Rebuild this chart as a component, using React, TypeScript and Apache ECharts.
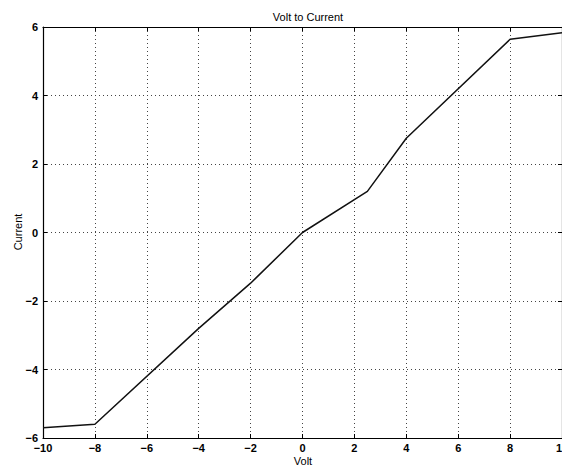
import React, { useEffect, useRef } from "react";
import * as echarts from "echarts";

const volts = [-10, -8, -4, -2, 0, 2.5, 4, 8, 10];
const currents = [-5.7, -5.6, -2.8, -1.48, 0, 1.2, 2.75, 5.64, 5.83];
const xTicks = [-10, -8, -6, -4, -2, 0, 2, 4, 6, 8, 10];
const yTicks = [-6, -4, -2, 0, 2, 4, 6];
const xName = "Volt";
const yName = "Current";

const fmt = (v: number) => String(v).replace("-", "\u2212");

export default function App() {
  const ref = useRef<HTMLDivElement>(null);
  useEffect(() => {
    if (!ref.current) return;
    const chart = echarts.init(ref.current, null, { renderer: "svg" });
    const font = "Liberation Sans, Arial, sans-serif";
    const grid = { left: 43, top: 27, width: 519, height: 411, containLabel: false, outerBoundsMode: "none" };
    chart.setOption({
      animation: false,
      backgroundColor: "#fff",
      title: {
        text: "Volt to Current",
        left: 303,
        top: 6,
        textAlign: "center",
        textStyle: { fontFamily: font, fontSize: 11, fontWeight: "normal", color: "#000" },
      },
      graphic: [
        {
          type: "text",
          x: 303,
          y: 460.5,
          style: { text: xName, fontFamily: font, fontSize: 11, fill: "#000", align: "center", verticalAlign: "middle" },
        },
        {
          type: "text",
          x: 18,
          y: 232,
          rotation: Math.PI / 2,
          style: { text: yName, fontFamily: font, fontSize: 11, fill: "#000", align: "center", verticalAlign: "middle" },
        },
      ],
      grid,
      xAxis: [
        {
          type: "value",
          min: xTicks[0],
          max: xTicks[xTicks.length - 1],
          interval: 2,
          axisLine: { show: true, onZero: false, lineStyle: { color: "#000", width: 1.2 } },
          axisTick: { show: true, inside: true, length: 4, lineStyle: { color: "#000" } },
          axisLabel: { formatter: fmt, fontFamily: font, fontSize: 11, fontWeight: "bold", color: "#000", margin: 4, lineHeight: 11 },
          splitLine: { show: true, lineStyle: { color: "#444", type: [1, 3], width: 1 } },
        },
        {
          type: "value",
          position: "top",
          min: xTicks[0],
          max: xTicks[xTicks.length - 1],
          interval: 2,
          axisLine: { show: true, onZero: false, lineStyle: { color: "#000", width: 1.2 } },
          axisTick: { show: true, inside: true, length: 4, lineStyle: { color: "#000" } },
          axisLabel: { show: false },
          splitLine: { show: false },
        },
      ],
      yAxis: [
        {
          type: "value",
          min: yTicks[0],
          max: yTicks[yTicks.length - 1],
          interval: 2,
          axisLine: { show: true, onZero: false, lineStyle: { color: "#000", width: 1.2 } },
          axisTick: { show: true, inside: true, length: 4, lineStyle: { color: "#000" } },
          axisLabel: { formatter: fmt, fontFamily: font, fontSize: 11, fontWeight: "bold", color: "#000", margin: 5 },
          splitLine: { show: true, lineStyle: { color: "#444", type: [1, 3], width: 1 } },
        },
        {
          type: "value",
          position: "right",
          min: yTicks[0],
          max: yTicks[yTicks.length - 1],
          interval: 2,
          axisLine: { show: true, onZero: false, lineStyle: { color: "#000", width: 1.2 } },
          axisTick: { show: true, inside: true, length: 4, lineStyle: { color: "#000" } },
          axisLabel: { show: false },
          splitLine: { show: false },
        },
      ],
      series: [
        {
          type: "line",
          data: volts.map((v, i) => [v, currents[i]]),
          showSymbol: false,
          symbol: "none",
          lineStyle: { color: "#111", width: 1.5 },
        },
      ],
    });
    return () => chart.dispose();
  }, []);
  return (
    <div
      ref={ref}
      style={{ position: "fixed", left: 0, top: 0, width: 562, height: 466, background: "#fff" }}
    />
  );
}
